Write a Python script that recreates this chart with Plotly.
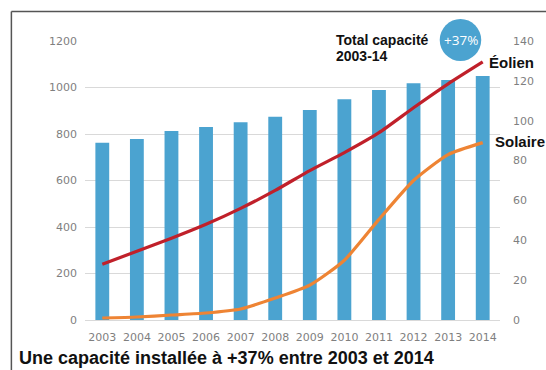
import plotly.graph_objects as go

years = ["2003", "2004", "2005", "2006", "2007", "2008", "2009", "2010", "2011", "2012", "2013", "2014"]
total_capacity = [762, 778, 813, 830, 851, 874, 903, 949, 989, 1018, 1032, 1049]
eolien = [28, 34.5, 41, 48, 56, 65, 75, 84, 94, 106.5, 118.5, 129.5]
solaire = [1, 1.5, 2.5, 3.5, 5.5, 11, 17.5, 30, 50.5, 70, 83, 89]

left_ticks = [0, 200, 400, 600, 800, 1000, 1200]
right_ticks = [0, 20, 40, 60, 80, 100, 120, 140]

BLUE = "#4BA3D0"
RED = "#C0202A"
ORANGE = "#EE8434"
GRAY_TXT = "#7f7f7f"
TICK_FONT = dict(family="DejaVu Sans", size=11, color=GRAY_TXT)
BOLD = "Liberation Sans"
DARK = "#111111"


def px_x(p):
    return (p - 85) / 420


def px_y(p):
    return (320 - p) / 279


fig = go.Figure()
fig.add_trace(go.Bar(x=years, y=total_capacity, marker=dict(color=BLUE, line=dict(width=0)),
                     name="Total", showlegend=False))
fig.add_trace(go.Scatter(x=years, y=eolien, yaxis="y2", mode="lines",
                         line=dict(color=RED, width=3.2, shape="spline", smoothing=0.6),
                         name="Éolien", showlegend=False))
fig.add_trace(go.Scatter(x=years, y=solaire, yaxis="y2", mode="lines",
                         line=dict(color=ORANGE, width=3.2, shape="spline", smoothing=0.6),
                         name="Solaire", showlegend=False))

fig.update_layout(
    width=546, height=370,
    margin=dict(l=85, r=41, t=41, b=50),
    paper_bgcolor="white", plot_bgcolor="white",
    bargap=0.6,
    xaxis=dict(type="category", showgrid=False, showline=False, ticks="",
               tickfont=TICK_FONT, ticklabelstandoff=9, fixedrange=True),
    yaxis=dict(range=[0, 1200], tickvals=left_ticks, showgrid=True, gridcolor="#d9d9d9",
               gridwidth=1, zeroline=True, zerolinecolor="#d9d9d9", zerolinewidth=1,
               showline=False, ticks="", tickfont=TICK_FONT, ticklabelstandoff=7),
    yaxis2=dict(range=[0, 140], tickvals=right_ticks, overlaying="y", side="right",
                showgrid=False, zeroline=False, showline=False, ticks="",
                tickfont=TICK_FONT, ticklabelstandoff=12),
    font=dict(family="DejaVu Sans"),
)

# frame lines (top and left)
fig.add_shape(type="line", xref="paper", yref="paper", x0=px_x(10.5), x1=px_x(560), y0=px_y(11.5), y1=px_y(11.5),
              line=dict(color="#555555", width=1.5))
fig.add_shape(type="line", xref="paper", yref="paper", x0=px_x(10.5), x1=px_x(10.5), y0=px_y(11.5), y1=px_y(380),
              line=dict(color="#555555", width=1.5))

# circle badge
fig.add_shape(type="circle", xref="paper", yref="paper", x0=px_x(444), x1=px_x(486), y0=px_y(61), y1=px_y(19),
              fillcolor=BLUE, line=dict(width=0), layer="above")
fig.add_annotation(xref="paper", yref="paper", x=px_x(465.5), y=px_y(40), xanchor="center", yanchor="middle",
                   text="+37%", showarrow=False,
                   font=dict(family="Open Sans", size=13.5, color="white"))

fig.add_annotation(xref="paper", yref="paper", x=px_x(337), y=px_y(40.5),
                   xanchor="left", yanchor="middle", text="<b>Total capacité</b>", showarrow=False,
                   font=dict(family=BOLD, size=14, color=DARK))
fig.add_annotation(xref="paper", yref="paper", x=px_x(337), y=px_y(56),
                   xanchor="left", yanchor="middle", text="<b>2003-14</b>", showarrow=False,
                   font=dict(family=BOLD, size=14, color=DARK))
fig.add_annotation(xref="paper", yref="paper", x=px_x(492), y=px_y(63),
                   xanchor="left", yanchor="middle", text="<b>Éolien</b>", showarrow=False,
                   font=dict(family=BOLD, size=15, color=DARK))
fig.add_annotation(xref="paper", yref="paper", x=px_x(498), y=px_y(141),
                   xanchor="left", yanchor="middle", text="<b>Solaire</b>", showarrow=False,
                   font=dict(family=BOLD, size=15, color=DARK))

fig.add_annotation(xref="paper", yref="paper", x=px_x(16), y=px_y(358),
                   xanchor="left", yanchor="middle",
                   text="<b>Une capacité installée à +37% entre 2003 et 2014</b>", showarrow=False,
                   font=dict(family=BOLD, size=18, color=DARK))

fig.write_html("out.html")
